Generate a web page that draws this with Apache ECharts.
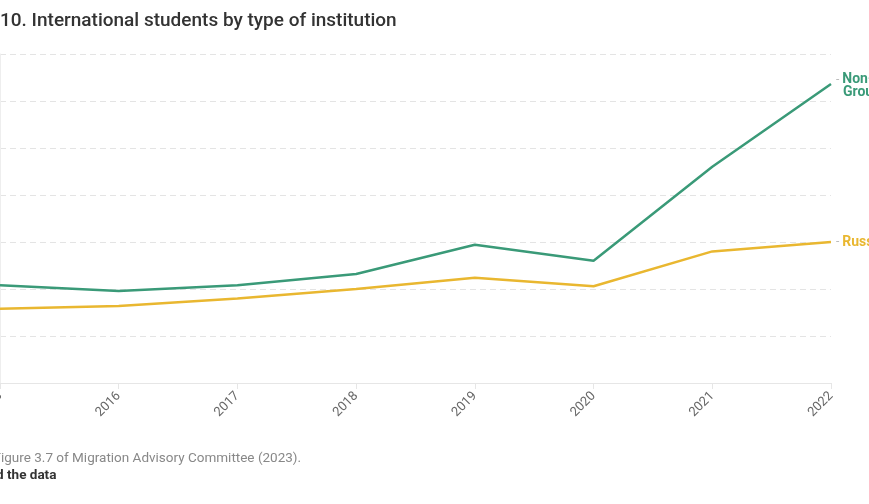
<!DOCTYPE html>
<html>
<head>
<meta charset="utf-8">
<script src="https://cdn.jsdelivr.net/npm/echarts@6/dist/echarts.min.js"></script>
<style>
    html, body { margin: 0; padding: 0; background: #fff; }
    #chart { width: 869px; height: 504px; }
</style>
</head>
<body>
<div id="chart"></div>
<script>
// data (students)
const years = ['2015', '2016', '2017', '2018', '2019', '2020', '2021', '2022'];
const nonRussell = [104000, 98000, 104000, 116000, 147000, 130000, 230000, 318000];
const russell = [79000, 82000, 90000, 100000, 112000, 103000, 140000, 150000];

const GREEN = '#3a9a78';
const YELLOW = '#e9b730';

const TITLE_FONT = '500 19px Roboto';
const NOTE_FONT = '13.5px Roboto';
const LINK_FONT = 'bold 13.5px Roboto';

// the picture is cropped on the left, so shift texts by the width of the hidden part
const ctx = document.createElement('canvas').getContext('2d');
function textW(str, font) {
    ctx.font = font;
    return ctx.measureText(str).width;
}

const chart = echarts.init(document.getElementById('chart'));

const option = {
    animation: false,
    textStyle: { fontFamily: 'Roboto' },
    graphic: [
        {
            type: 'text',
            left: -textW('Figure 3.', TITLE_FONT),
            top: 12,
            style: {
                text: 'Figure 3.10. International students by type of institution',
                fill: '#333',
                font: TITLE_FONT,
            },
        },
        {
            type: 'text',
            left: 1 - textW('Source: F', NOTE_FONT),
            top: 452,
            style: {
                text: 'Source: Figure 3.7 of Migration Advisory Committee (2023).',
                fill: '#888',
                font: NOTE_FONT,
            },
        },
        {
            type: 'text',
            left: 7 - textW('Download ', LINK_FONT),
            top: 469,
            style: {
                text: 'Download the data',
                fill: '#333',
                font: LINK_FONT,
            },
        },
    ],
    grid: {
        left: 0,
        right: 38,
        top: 54,
        bottom: 121,
        containLabel: false,
        outerBoundsMode: 'none',
    },
    xAxis: {
        type: 'category',
        data: years,
        boundaryGap: false,
        axisLine: { lineStyle: { color: '#e6e6e6' } },
        axisTick: { show: true, length: 6, lineStyle: { color: '#e6e6e6' } },
        axisLabel: { rotate: 45, color: '#666', fontSize: 13, margin: 11 },
    },
    yAxis: {
        type: 'value',
        min: 0,
        max: 350000,
        interval: 50000,
        axisLine: { show: true, lineStyle: { color: '#eeeeee' } },
        axisLabel: { show: false },
        splitLine: { lineStyle: { color: '#e4e4e4', type: [6, 4] } },
    },
    series: [
        {
            name: 'Non-Russell Group',
            type: 'line',
            data: nonRussell,
            symbol: 'none',
            lineStyle: { color: GREEN, width: 2.5 },
            itemStyle: { color: GREEN },
            endLabel: {
                show: true,
                distance: 5,
                offset: [0, 2],
                formatter: '{d|- }{n|Non-Russell}\n{p| }{n|Group}',
                rich: {
                    d: { color: '#bbb', fontSize: 12 },
                    n: { color: GREEN, fontSize: 14, fontWeight: 'bold', lineHeight: 13 },
                    p: { width: 7, fontSize: 12 },
                },
            },
        },
        {
            name: 'Russell Group',
            type: 'line',
            data: russell,
            symbol: 'none',
            lineStyle: { color: YELLOW, width: 2.5 },
            itemStyle: { color: YELLOW },
            endLabel: {
                show: true,
                distance: 5,
                formatter: '{d|- }{n|Russell Group}',
                rich: {
                    d: { color: '#bbb', fontSize: 12 },
                    n: { color: YELLOW, fontSize: 14, fontWeight: 'bold' },
                },
            },
        },
    ],
};

chart.setOption(option);
</script>
</body>
</html>
